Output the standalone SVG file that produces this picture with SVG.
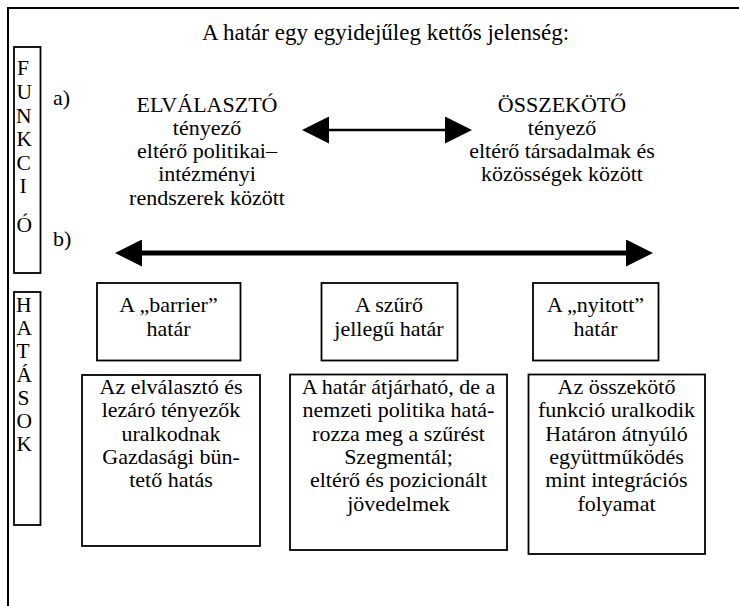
<svg xmlns="http://www.w3.org/2000/svg" width="739" height="606" viewBox="0 0 739 606">
<style>
  text { font-family: "Liberation Serif", "Times New Roman", serif; fill: #000; }
  .t { font-size: 22px; text-anchor: middle; }
  .title { font-size: 23px; text-anchor: middle; }
  .lab { font-size: 22px; }
  .vert { font-size: 21.5px; }
  .box { fill: none; stroke: #000; stroke-width: 1.8; }
  .frame { fill: none; stroke: #000; stroke-width: 2; }
  .shaft { stroke: #000; fill: none; }
</style>
<defs>
  <marker id="head" viewBox="0 0 27 27" markerWidth="27" markerHeight="27" refX="3" refY="13.5" markerUnits="userSpaceOnUse" orient="auto-start-reverse">
    <path d="M0,0 L27,13.5 L0,27 Z" fill="#000"/>
  </marker>
</defs>
<rect x="0" y="0" width="739" height="606" fill="#fff"/>
<g id="frame">
  <path class="frame" d="M739,8 H8 V606"/>
</g>
<g id="title">
  <text class="title" x="385.5" y="40">A határ egy egyidejűleg kettős jelenség:</text>
</g>
<g id="funkcio">
  <rect class="box" x="14" y="47" width="26.5" height="226"/>
  <text class="vert">
    <tspan x="17" y="75">F</tspan>
    <tspan x="16.5" y="99">U</tspan>
    <tspan x="16" y="122.5">N</tspan>
    <tspan x="16.5" y="146">K</tspan>
    <tspan x="16.5" y="169.5">C</tspan>
    <tspan x="19.5" y="193">I</tspan>
    <tspan x="16.5" y="232">Ó</tspan>
  </text>
</g>
<g id="hatasok">
  <rect class="box" x="14" y="292" width="26.5" height="233"/>
  <text class="vert">
    <tspan x="16" y="311.5">H</tspan>
    <tspan x="16.5" y="335">A</tspan>
    <tspan x="16.5" y="358">T</tspan>
    <tspan x="16.5" y="382">Á</tspan>
    <tspan x="17.5" y="404.5">S</tspan>
    <tspan x="16.5" y="427.5">O</tspan>
    <tspan x="16.5" y="450.5">K</tspan>
  </text>
</g>
<g id="label-a"><text class="lab" x="53" y="105">a)</text></g>
<g id="label-b"><text class="lab" x="53" y="246">b)</text></g>
<g id="elvalaszto">
  <text class="t" x="207" y="112">ELVÁLASZTÓ</text>
  <text class="t" x="207" y="135">tényező</text>
  <text class="t" x="207" y="158.3">eltérő politikai–</text>
  <text class="t" x="207" y="181.3">intézményi</text>
  <text class="t" x="207" y="204.5">rendszerek között</text>
</g>
<g id="osszekoto">
  <text class="t" x="562" y="112">ÖSSZEKÖTŐ</text>
  <text class="t" x="562" y="135">tényező</text>
  <text class="t" x="562" y="158.3">eltérő társadalmak és</text>
  <text class="t" x="562" y="181.3">közösségek között</text>
</g>
<g id="connectors">
  <line class="shaft" x1="326" y1="130" x2="448" y2="130" stroke-width="2.5" marker-start="url(#head)" marker-end="url(#head)"/>
  <line class="shaft" x1="139" y1="253" x2="629" y2="253" stroke-width="5" marker-start="url(#head)" marker-end="url(#head)"/>
</g>
<g id="barrier">
  <rect class="box" x="97" y="283" width="143.5" height="77.5"/>
  <text class="t" x="168.5" y="312">A „barrier”</text>
  <text class="t" x="168.5" y="335.5">határ</text>
</g>
<g id="szuro">
  <rect class="box" x="321.5" y="283" width="136" height="77.5"/>
  <text class="t" x="389" y="312">A szűrő</text>
  <text class="t" x="389" y="335.5">jellegű határ</text>
</g>
<g id="nyitott">
  <rect class="box" x="533" y="283" width="125.5" height="77.5"/>
  <text class="t" x="595.5" y="312">A „nyitott”</text>
  <text class="t" x="595.5" y="335.5">határ</text>
</g>
<g id="barrier-leiras">
  <rect class="box" x="82" y="375" width="178" height="171"/>
  <text class="t" x="171" y="394">Az elválasztó és</text>
  <text class="t" x="171" y="417.3">lezáró tényezők</text>
  <text class="t" x="171" y="440.6">uralkodnak</text>
  <text class="t" x="171" y="464">Gazdasági bün-</text>
  <text class="t" x="171" y="487.3">tető hatás</text>
</g>
<g id="szuro-leiras">
  <rect class="box" x="290" y="374.5" width="217" height="175.5"/>
  <text class="t" x="398.5" y="394">A határ átjárható, de a</text>
  <text class="t" x="398.5" y="417.3">nemzeti politika hatá-</text>
  <text class="t" x="398.5" y="440.6">rozza meg a szűrést</text>
  <text class="t" x="398.5" y="464">Szegmentál;</text>
  <text class="t" x="398.5" y="487.3">eltérő és pozicionált</text>
  <text class="t" x="398.5" y="510.6">jövedelmek</text>
</g>
<g id="nyitott-leiras">
  <rect class="box" x="528.5" y="374.5" width="176.5" height="179.5"/>
  <text class="t" x="616.5" y="394">Az összekötő</text>
  <text class="t" x="616.5" y="417.3">funkció uralkodik</text>
  <text class="t" x="616.5" y="440.6">Határon átnyúló</text>
  <text class="t" x="616.5" y="464">együttműködés</text>
  <text class="t" x="616.5" y="487.3">mint integrációs</text>
  <text class="t" x="616.5" y="510.6">folyamat</text>
</g>
</svg>
